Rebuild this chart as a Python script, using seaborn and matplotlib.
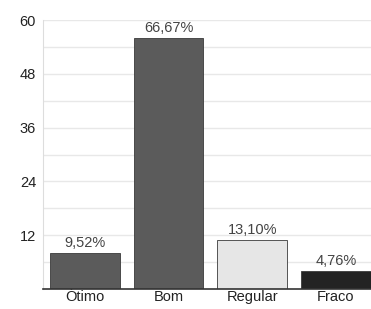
import matplotlib
matplotlib.use("Agg")
import matplotlib.pyplot as plt
import pandas as pd
import seaborn as sns

categorias = ["Ótimo", "Bom", "Regular", "Fraco"]
valores = [8, 56, 11, 4]
percentuais = ["9,52%", "66,67%", "13,10%", "4,76%"]
cores = ["#5b5b5b", "#5b5b5b", "#e6e6e6", "#232323"]
yticks = [12, 24, 36, 48, 60]
yminor = [6, 18, 30, 42, 54]

df = pd.DataFrame({"cat": categorias, "val": valores})

sns.set_style("white")
plt.rcParams["font.family"] = ["Liberation Sans", "DejaVu Sans"]

fig = plt.figure(figsize=(3.71, 3.09), dpi=100)
ax = fig.add_axes([0.116, 0.065, 0.884, 0.870])

sns.barplot(data=df, x="cat", y="val", hue="cat", palette=dict(zip(categorias, cores)),
            width=0.83, legend=False, ax=ax, edgecolor="#3a3a3a", linewidth=0.6)

for i, c in enumerate(ax.containers):
    ax.bar_label(c, labels=[percentuais[i]], padding=2, fontsize=10.5, color="#444444")

ax.set_ylim(0, 60)
ax.set_xlim(-0.5, 3.42)
ax.set_yticks(yticks)
ax.set_yticks(yminor, minor=True)
ax.yaxis.grid(True, which="both", color="#e8e8e8", linewidth=1)
ax.set_axisbelow(True)
ax.tick_params(axis="y", which="both", length=4, width=1, color="#333333",
               labelsize=10.5, pad=1, labelcolor="#222222")
ax.tick_params(axis="x", length=0, labelsize=10.5, pad=1, labelcolor="#222222")
ax.set_xlabel("")
ax.set_ylabel("")
for s in ["top", "right"]:
    ax.spines[s].set_visible(False)
ax.spines["left"].set_color("#dddddd")
ax.spines["bottom"].set_color("#333333")
ax.spines["bottom"].set_linewidth(1.2)

fig.savefig("out.png", dpi=100)
